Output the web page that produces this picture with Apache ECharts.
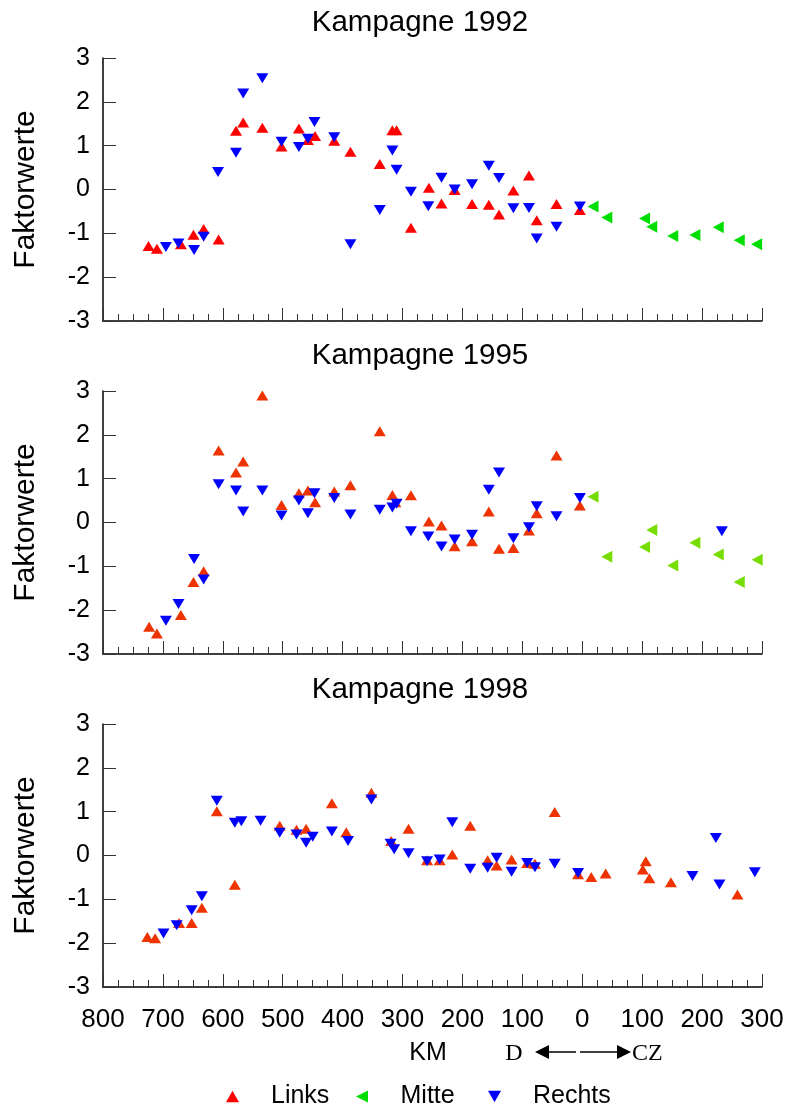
<!DOCTYPE html>
<html>
<head>
<meta charset="utf-8">
<script src="https://cdn.jsdelivr.net/npm/echarts@6/dist/echarts.min.js"></script>
<style>html,body{margin:0;padding:0;background:#fff}#c{width:787px;height:1106px}</style>
</head>
<body>
<div id="c"></div>
<script>
// x = river km from the D/CZ border: negative = Germany (D), positive = Czech Republic (CZ)
const xTicks = [-800, -700, -600, -500, -400, -300, -200, -100, 0, 100, 200, 300];
const yTicks = [-3, -2, -1, 0, 1, 2, 3];
const campaigns = ['Kampagne 1992', 'Kampagne 1995', 'Kampagne 1998'];
const seriesNames = ['Links', 'Mitte', 'Rechts'];

const links1992 = [[-724,-1.29],[-710,-1.35],[-670,-1.25],[-649,-1.03],[-632,-0.90],[-607,-1.14],[-578,1.34],[-566,1.53],[-534,1.41],[-502,0.98],[-473,1.39],[-458,1.13],[-446,1.22],[-414,1.11],[-387,0.86],[-338,0.58],[-317,1.35],[-310,1.35],[-286,-0.87],[-256,0.04],[-235,-0.32],[-213,-0.01],[-184,-0.33],[-156,-0.35],[-139,-0.57],[-115,-0.02],[-89,0.32],[-76,-0.70],[-43,-0.33],[-4,-0.47]];
const mitte1992 = [[18,-0.39],[41,-0.64],[104,-0.66],[116,-0.85],[151,-1.06],[188,-1.04],[227,-0.86],[262,-1.16],[291,-1.25]];
const rechts1992 = [[-695,-1.31],[-674,-1.23],[-648,-1.38],[-632,-1.08],[-608,0.40],[-578,0.84],[-566,2.19],[-534,2.54],[-502,1.09],[-473,0.97],[-458,1.16],[-447,1.54],[-414,1.19],[-387,-1.25],[-338,-0.47],[-317,0.89],[-310,0.45],[-286,-0.05],[-257,-0.38],[-235,0.27],[-213,0.00],[-184,0.12],[-156,0.54],[-139,0.26],[-115,-0.43],[-89,-0.42],[-76,-1.12],[-43,-0.85],[-4,-0.39]];

const links1995 = [[-723,-2.38],[-710,-2.53],[-670,-2.11],[-649,-1.36],[-632,-1.11],[-607,1.64],[-578,1.14],[-566,1.39],[-534,2.90],[-502,0.40],[-473,0.67],[-458,0.73],[-446,0.46],[-414,0.71],[-387,0.85],[-338,2.08],[-317,0.63],[-312,0.46],[-286,0.62],[-256,0.02],[-235,-0.07],[-213,-0.54],[-184,-0.43],[-156,0.25],[-139,-0.60],[-115,-0.58],[-89,-0.18],[-76,0.21],[-43,1.53],[-4,0.39]];
const mitte1995 = [[18,0.59],[41,-0.78],[104,-0.56],[116,-0.17],[151,-0.98],[188,-0.46],[227,-0.73],[262,-1.36],[292,-0.85]];
const rechts1995 = [[-695,-2.24],[-674,-1.86],[-648,-0.83],[-632,-1.30],[-607,0.87],[-578,0.73],[-566,0.25],[-534,0.73],[-502,0.16],[-473,0.50],[-458,0.21],[-447,0.67],[-414,0.56],[-387,0.18],[-338,0.29],[-317,0.34],[-310,0.43],[-286,-0.20],[-257,-0.32],[-235,-0.55],[-213,-0.39],[-184,-0.28],[-156,0.75],[-139,1.14],[-115,-0.36],[-89,-0.11],[-76,0.37],[-43,0.14],[-4,0.56],[233,-0.20]];

const links1998 = [[-726,-1.86],[-713,-1.89],[-673,-1.54],[-652,-1.54],[-635,-1.19],[-610,1.01],[-580,-0.67],[-505,0.68],[-477,0.59],[-461,0.61],[-418,1.19],[-394,0.53],[-352,1.43],[-319,0.33],[-290,0.61],[-259,-0.11],[-238,-0.11],[-217,0.02],[-187,0.68],[-158,-0.11],[-143,-0.23],[-118,-0.09],[-92,-0.17],[-79,-0.19],[-46,0.99],[-7,-0.43],[15,-0.49],[39,-0.41],[101,-0.32],[106,-0.13],[112,-0.52],[148,-0.61],[259,-0.89]];
const mitte1998 = [];
const rechts1998 = [[-699,-1.78],[-677,-1.59],[-652,-1.25],[-635,-0.93],[-610,1.25],[-580,0.75],[-569,0.78],[-537,0.79],[-505,0.52],[-477,0.48],[-461,0.29],[-450,0.43],[-418,0.55],[-391,0.33],[-352,1.28],[-320,0.27],[-314,0.14],[-290,0.05],[-259,-0.13],[-238,-0.09],[-217,0.76],[-187,-0.30],[-158,-0.28],[-143,-0.05],[-118,-0.37],[-92,-0.17],[-79,-0.27],[-46,-0.19],[-7,-0.40],[184,-0.47],[223,0.40],[229,-0.66],[288,-0.38]];

const panelData = [
  [links1992, mitte1992, rechts1992],
  [links1995, mitte1995, rechts1995],
  [links1998, mitte1998, rechts1998]
];

const SANS = '"Liberation Sans", Arial, sans-serif';
const SERIF = '"Liberation Serif", "Times New Roman", serif';
const panelColors = [
  ['#ff0000', '#00dd00', '#0000ff'],
  ['#ee3300', '#77dd00', '#0000ff'],
  ['#ee3300', '#77dd00', '#0000ff']
];
const symbols = [
  'path://M5,0L10,9L0,9Z',   // up
  'path://M10,0L10,10L0,5Z', // left
  'path://M0,0L10,0L5,9Z'    // down
];
const symbolSizes = [[12, 10], [11, 12], [12, 10]];

const gridTops = [58, 391, 724];
const gridH = 263;
const titleY = [23, 356, 690];

const grids = [], xAxes = [], yAxes = [], series = [], graphics = [];
gridTops.forEach((top, i) => {
  grids.push({ left: 103, right: 25, top: top, height: gridH, containLabel: false });
  xAxes.push({
    type: 'value', gridIndex: i, min: xTicks[0], max: xTicks[xTicks.length - 1], interval: 100,
    axisLine: { show: true, onZero: false, lineStyle: { color: '#000', width: 1.5 } },
    axisTick: { show: true, inside: true, length: 13, lineStyle: { color: '#333', width: 1 } },
    minorTick: { show: true, splitNumber: 4, length: 7, lineStyle: { color: '#333', width: 1 } },
    splitLine: { show: false },
    axisLabel: {
      show: i === 2, margin: 20, fontSize: 26, fontFamily: SANS, color: '#000',
      formatter: v => String(Math.abs(v))
    }
  });
  yAxes.push({
    type: 'value', gridIndex: i, min: yTicks[0], max: yTicks[yTicks.length - 1], interval: 1,
    name: 'Faktorwerte', nameLocation: 'middle', nameGap: 62,
    nameTextStyle: { fontSize: 30, fontFamily: SANS, color: '#000' },
    axisLine: { show: true, onZero: false, lineStyle: { color: '#000', width: 1.5 } },
    axisTick: { show: true, inside: true, length: 13, lineStyle: { color: '#333', width: 1 } },
    splitLine: { show: false },
    axisLabel: { margin: 13, fontSize: 25, fontFamily: SANS, color: '#000' }
  });
  seriesNames.forEach((name, s) => {
    series.push({
      type: 'scatter', name: name, xAxisIndex: i, yAxisIndex: i,
      symbol: symbols[s], symbolSize: symbolSizes[s], symbolKeepAspect: false,
      itemStyle: { color: panelColors[i][s], opacity: 1 },
      emphasis: { disabled: true },
      data: panelData[i][s]
    });
  });
  graphics.push({
    type: 'text', x: 420, y: titleY[i],
    style: { text: campaigns[i], fontSize: 29.5, fontFamily: SANS, fill: '#000', align: 'center', verticalAlign: 'middle' }
  });
});

// axis caption and D <-> CZ direction marker
graphics.push({ type: 'text', x: 428, y: 1053, style: { text: 'KM', fontSize: 25, fontFamily: SANS, fill: '#000', align: 'center', verticalAlign: 'middle' } });
graphics.push({ type: 'text', x: 514, y: 1054, style: { text: 'D', fontSize: 24, fontFamily: SERIF, fill: '#000', align: 'center', verticalAlign: 'middle' } });
graphics.push({ type: 'polygon', shape: { points: [[535, 1052], [549, 1045], [549, 1059]] }, style: { fill: '#000' } });
graphics.push({ type: 'line', shape: { x1: 548, y1: 1052, x2: 576, y2: 1052 }, style: { stroke: '#000', lineWidth: 1.5 } });
graphics.push({ type: 'line', shape: { x1: 580, y1: 1052, x2: 617, y2: 1052 }, style: { stroke: '#000', lineWidth: 1.5 } });
graphics.push({ type: 'polygon', shape: { points: [[631, 1052], [617, 1045], [617, 1059]] }, style: { fill: '#000' } });
graphics.push({ type: 'text', x: 632, y: 1054, style: { text: 'CZ', fontSize: 24, fontFamily: SERIF, fill: '#000', align: 'left', verticalAlign: 'middle' } });

const legendLeft = [221, 351, 483];
const legends = seriesNames.map((name, k) => ({
  data: [name], left: legendLeft[k], top: 1079, orient: 'horizontal',
  itemWidth: 13, itemHeight: 12, itemGap: 0, symbolKeepAspect: true,
  textStyle: { fontSize: 25, fontFamily: SANS, color: '#000', padding: [0, 0, 0, 27] },
  selectedMode: false
}));

const chart = echarts.init(document.getElementById('c'), null, { renderer: 'canvas' });
chart.setOption({
  backgroundColor: '#fff',
  animation: false,
  grid: grids,
  xAxis: xAxes,
  yAxis: yAxes,
  series: series,
  graphic: graphics,
  legend: legends
});
</script>
</body>
</html>
